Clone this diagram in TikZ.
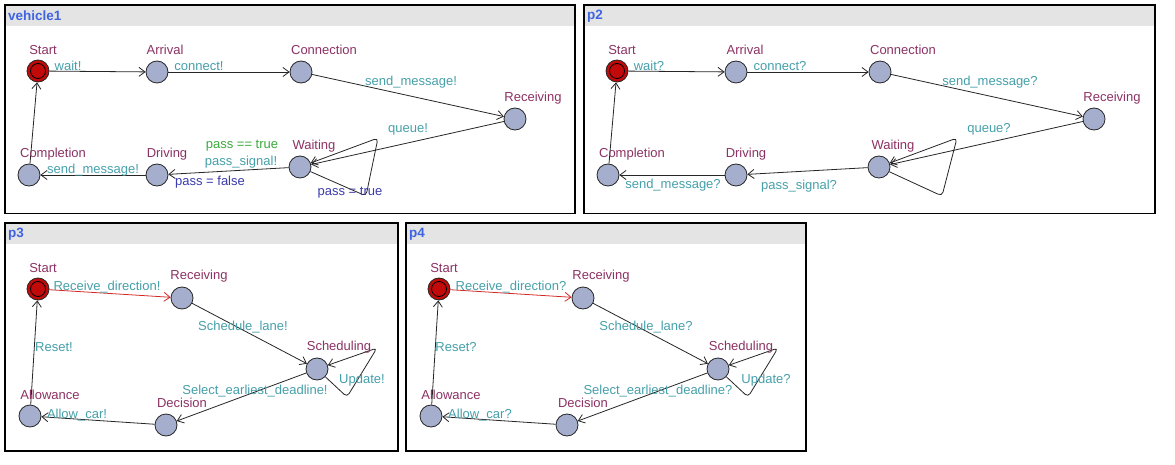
\documentclass[tikz,border=0pt]{standalone}
\usepackage{fontspec}
\setmainfont{Liberation Sans}
\usetikzlibrary{arrows.meta}
\definecolor{locname}{RGB}{140,50,100}
\definecolor{synccol}{RGB}{70,160,170}
\definecolor{guardcol}{RGB}{60,170,60}
\definecolor{updcol}{RGB}{60,60,170}
\definecolor{locfill}{RGB}{165,175,205}
\definecolor{initfill}{RGB}{195,10,10}
\definecolor{titlecol}{RGB}{64,100,224}
\definecolor{hdrcol}{RGB}{228,228,228}
\definecolor{redge}{RGB}{210,40,40}
\begin{document}
\begin{tikzpicture}[x=1pt,y=-1pt,
  font=\fontsize{13}{15}\selectfont,
  loc/.style={circle, draw=black!85, fill=locfill, minimum size=22pt, inner sep=0pt, line width=0.8pt},
  initloc/.style={loc, fill=initfill},
  lname/.style={text=locname, inner sep=0pt},
  sync/.style={text=synccol, inner sep=0pt},
  guard/.style={text=guardcol, inner sep=0pt},
  upd/.style={text=updcol, inner sep=0pt},
  edge/.style={draw=black!85, line width=0.8pt, -{Straight Barb[length=6pt,width=9pt]}},
  redg/.style={edge, draw=redge},
  panel/.style={draw=black, line width=1.6pt},
  hdr/.style={fill=hdrcol},
  ptitle/.style={text=titlecol, font=\fontsize{13.5}{15}\selectfont\bfseries, anchor=west, inner sep=0pt}]
\useasboundingbox (0,0) rectangle (1175,465);
\fill[white] (0,0) rectangle (1175,465);

% ---------------- panels ----------------
\fill[hdr] (5,5) rectangle (575,26);
\draw[panel] (5,5) rectangle (575,213.5);
\node[ptitle] (t1) at (8,16) {vehicle1};
\fill[hdr] (584,5) rectangle (1155,26);
\draw[panel] (584,5) rectangle (1155,213.5);
\node[ptitle] (t2) at (587,16) {p2};
\fill[hdr] (5,223) rectangle (398,244);
\draw[panel] (5,223) rectangle (398,451);
\node[ptitle] (t3) at (8,234) {p3};
\fill[hdr] (406,223) rectangle (806,244);
\draw[panel] (406,223) rectangle (806,451);
\node[ptitle] (t4) at (409,234) {p4};

% ---------------- vehicle1 ----------------
\node[initloc] (a1) at (38,71) {};
\draw[line width=0.8pt] (38,71) circle (7.5pt);
\node[loc] (b1) at (157,72) {};
\node[loc] (c1) at (301,72) {};
\node[loc] (d1) at (515,119) {};
\node[loc] (e1) at (300,167) {};
\node[loc] (f1) at (157,175) {};
\node[loc] (g1) at (29,175) {};
\coordinate (lb1) at (366,196);
\coordinate (lt1) at (378,138);
\draw[edge] (a1) -- (b1);
\draw[edge] (b1) -- (c1);
\draw[edge] (c1) -- (d1);
\draw[edge] (d1) -- (e1);
\draw[edge, rounded corners=4pt] (e1) -- (lb1) -- (lt1) -- (e1);
\draw[edge] (e1) -- (f1);
\draw[edge] (f1) -- (g1);
\draw[edge] (g1) -- (a1);
\node[lname] (na1) at (43,50) {Start};
\node[lname] (nb1) at (165,50) {Arrival};
\node[lname] (nc1) at (324,50) {Connection};
\node[lname] (nd1) at (533,98) {Receiving};
\node[lname] (ne1) at (314,146) {Waiting};
\node[lname] (nf1) at (167,154) {Driving};
\node[lname] (ng1) at (53,154) {Completion};
\node[sync] (s1a) at (68,66) {wait!};
\node[sync] (s1b) at (199,66) {connect!};
\node[sync] (s1c) at (411,82) {send\_message!};
\node[sync] (s1d) at (408,129) {queue!};
\node[guard] (g1a) at (242,146) {pass == true};
\node[sync] (s1e) at (241,162) {pass\_signal!};
\node[upd] (u1a) at (210,182) {pass = false};
\node[upd] (u1b) at (350,193) {pass = true};
\node[sync] (s1f) at (93,170) {send\_message!};

% ---------------- p2 ----------------
\node[initloc] (a2) at (617,71) {};
\draw[line width=0.8pt] (617,71) circle (7.5pt);
\node[loc] (b2) at (736,72) {};
\node[loc] (c2) at (880,72) {};
\node[loc] (d2) at (1094,119) {};
\node[loc] (e2) at (879,167) {};
\node[loc] (f2) at (736,175) {};
\node[loc] (g2) at (608,175) {};
\coordinate (lb2) at (942,196);
\coordinate (lt2) at (957,138);
\draw[edge] (a2) -- (b2);
\draw[edge] (b2) -- (c2);
\draw[edge] (c2) -- (d2);
\draw[edge] (d2) -- (e2);
\draw[edge, rounded corners=4pt] (e2) -- (lb2) -- (lt2) -- (e2);
\draw[edge] (e2) -- (f2);
\draw[edge] (f2) -- (g2);
\draw[edge] (g2) -- (a2);
\node[lname] (na2) at (622,50) {Start};
\node[lname] (nb2) at (745,50) {Arrival};
\node[lname] (nc2) at (903,50) {Connection};
\node[lname] (nd2) at (1112,98) {Receiving};
\node[lname] (ne2) at (893,146) {Waiting};
\node[lname] (nf2) at (746,154) {Driving};
\node[lname] (ng2) at (632,154) {Completion};
\node[sync] (s2a) at (649,66) {wait?};
\node[sync] (s2b) at (780,66) {connect?};
\node[sync] (s2c) at (990,82) {send\_message?};
\node[sync] (s2d) at (989,129) {queue?};
\node[sync] (s2e) at (799,186) {pass\_signal?};
\node[sync] (s2f) at (673,185) {send\_message?};

% ---------------- p3 ----------------
\node[initloc] (a3) at (38,289) {};
\draw[line width=0.8pt] (38,289) circle (7.5pt);
\node[loc] (b3) at (182,298) {};
\node[loc] (c3) at (317,369) {};
\node[loc] (d3) at (166,425) {};
\node[loc] (e3) at (30,416) {};
\coordinate (lt3) at (377,348);
\coordinate (lb3) at (347,397);
\draw[redg] (a3) -- (b3);
\draw[edge] (b3) -- (c3);
\draw[edge, rounded corners=4pt] (c3) -- (lb3) -- (lt3) -- (c3);
\draw[edge] (c3) -- (d3);
\draw[edge] (d3) -- (e3);
\draw[edge] (e3) -- (a3);
\node[lname] (na3) at (43,268) {Start};
\node[lname] (nb3) at (199,276) {Receiving};
\node[lname] (nc3) at (339,347) {Scheduling};
\node[lname] (nd3) at (182,403) {Decision};
\node[lname] (ne3) at (50,395) {Allowance};
\node[sync] (s3a) at (107,287) {Receive\_direction!};
\node[sync] (s3b) at (243,327) {Schedule\_lane!};
\node[sync] (s3c) at (362,380) {Update!};
\node[sync] (s3d) at (255,391) {Select\_earliest\_deadline!};
\node[sync] (s3e) at (77,415) {Allow\_car!};
\node[sync] (s3f) at (54,347) {Reset!};

% ---------------- p4 ----------------
\node[initloc] (a4) at (439,289) {};
\draw[line width=0.8pt] (439,289) circle (7.5pt);
\node[loc] (b4) at (583,298) {};
\node[loc] (c4) at (718,369) {};
\node[loc] (d4) at (567,425) {};
\node[loc] (e4) at (431,416) {};
\coordinate (lt4) at (778,348);
\coordinate (lb4) at (748,397);
\draw[redg] (a4) -- (b4);
\draw[edge] (b4) -- (c4);
\draw[edge, rounded corners=4pt] (c4) -- (lb4) -- (lt4) -- (c4);
\draw[edge] (c4) -- (d4);
\draw[edge] (d4) -- (e4);
\draw[edge] (e4) -- (a4);
\node[lname] (na4) at (444,268) {Start};
\node[lname] (nb4) at (601,276) {Receiving};
\node[lname] (nc4) at (741,347) {Scheduling};
\node[lname] (nd4) at (583,403) {Decision};
\node[lname] (ne4) at (451,395) {Allowance};
\node[sync] (s4a) at (511,287) {Receive\_direction?};
\node[sync] (s4b) at (646,327) {Schedule\_lane?};
\node[sync] (s4c) at (766,380) {Update?};
\node[sync] (s4d) at (658,391) {Select\_earliest\_deadline?};
\node[sync] (s4e) at (480,415) {Allow\_car?};
\node[sync] (s4f) at (456,347) {Reset?};
\end{tikzpicture}
\end{document}
